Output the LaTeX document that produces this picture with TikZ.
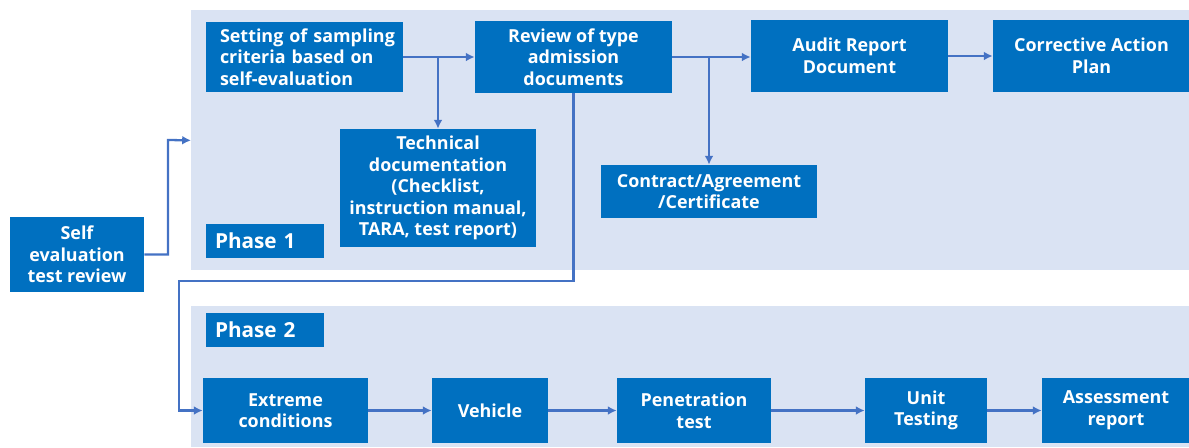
\documentclass[tikz,border=0pt]{standalone}
\usepackage{fontspec}
\setmainfont{Open Sans}
\usetikzlibrary{positioning,arrows.meta}
\definecolor{boxblue}{HTML}{0070C0}
\definecolor{panelblue}{HTML}{DAE3F3}
\definecolor{lineblue}{HTML}{4472C4}

\begin{document}
\begin{tikzpicture}[%
		   box/.style={fill=boxblue,text=white,font=\bfseries\fontsize{10.2}{12.3}\selectfont,align=center,inner sep=0pt},
		   phase/.style={fill=boxblue,text=white,font=\bfseries\fontsize{11.8}{14}\selectfont,inner sep=0pt,
		     minimum width=2.36cm,minimum height=0.68cm,text width=2.0cm,align=left},
		   panel/.style={fill=panelblue,inner sep=0pt,anchor=north west},
		   flow/.style={-{Latex[length=5pt,width=5pt]},line width=1.3pt,lineblue}]

	    \useasboundingbox (0,0) rectangle (23.78,-8.94);

	    % the two phase panels
	    \node[panel,minimum width=19.96cm,minimum height=5.2cm] (panelone) at (3.82,-0.2) {};
	    \node[panel,minimum width=19.96cm,minimum height=2.82cm] (paneltwo) at (3.82,-6.12) {};
	    \node[phase] (phaseone) at (5.30,-4.82) {Phase 1};
	    \node[phase] (phasetwo) at (5.30,-6.60) {Phase 2};

	    % phase 1
	    \node[box,minimum width=2.68cm,minimum height=1.5cm] (self) at (1.54,-5.09) {Self\\evaluation\\test review};
	    \node[box,minimum width=3.94cm,minimum height=1.4cm,text width=3.38cm,align=left] (setting) at (6.09,-1.14)
	       {\mbox{Setting of sampling}\\\mbox{criteria based on}\\\mbox{self-evaluation}};
	    \node[box,minimum width=3.94cm,minimum height=1.44cm] (review) at (11.47,-1.14) {Review of type\\admission\\documents};
	    \node[box,minimum width=3.92cm,minimum height=2.36cm] (techdoc) at (8.76,-3.76)
	       {Technical\\documentation\\(Checklist,\\instruction manual,\\TARA, test report)};
	    \node[box,minimum width=3.94cm,minimum height=1.44cm] (audit) at (16.99,-1.12) {Audit Report\\Document};
	    \node[box,minimum width=3.94cm,minimum height=1.44cm] (corrective) at (21.83,-1.12) {Corrective Action\\Plan};
	    \node[box,minimum width=4.32cm,minimum height=1.06cm] (contract) at (14.18,-3.83) {Contract/Agreement\\/Certificate};

	    \coordinate (riser) at (3.36,-2.80);
	    \draw[flow] (self.east) -| (riser) -- (panelone.west);
	    \draw[flow] (setting.east) -- (setting.east -| review.west);
	    \draw[flow] (setting.east -| techdoc.north) -- (techdoc.north);
	    \draw[flow] (review.east) -- (review.east -| audit.west);
	    \draw[flow] (review.east -| contract.north) -- (contract.north);
	    \draw[flow] (audit.east) -- (audit.east -| corrective.west);

	    % phase 2
	    \foreach \name/\x/\w/\desc [count=\i] in {%
	       extreme/5.71/3.30/{Extreme\\conditions},%
	       vehicle/9.80/2.32/{Vehicle},%
	       pentest/13.88/3.08/{Penetration\\test},%
	       unittest/18.52/2.44/{Unit\\Testing},%
	       assess/22.32/2.96/{Assessment\\report}%
	       } { \node[box,minimum width=\w cm,minimum height=1.3cm] (\name) at (\x,-8.21) {\desc};
		   \ifnum\i>1\draw[flow] (\prev) -- (\name);\fi
		   \global\let\prev=\name% for the arrow from the last box
	       }

	    \coordinate (drop) at (3.58,-5.62);
	    \draw[flow] (review.south) |- (drop) |- (extreme.west);
	\end{tikzpicture}
\end{document}
